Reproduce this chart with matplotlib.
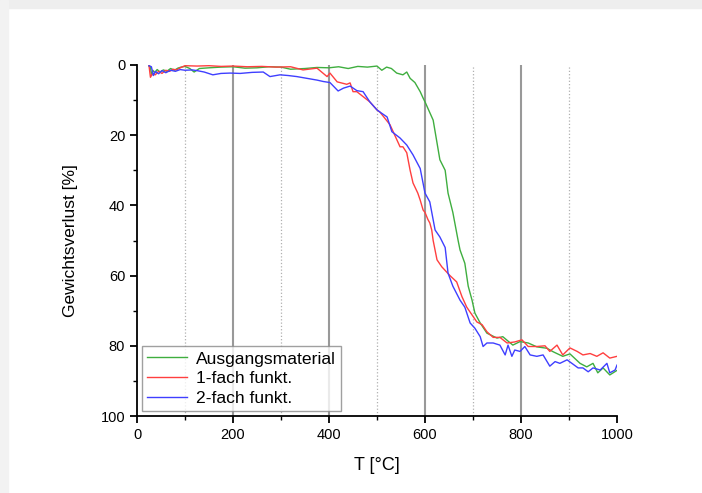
#!/usr/bin/env python3
import matplotlib
matplotlib.use("Agg")
import matplotlib.pyplot as plt
from matplotlib.patches import Rectangle
from matplotlib.ticker import MultipleLocator

plt.rcParams["font.family"] = ["Liberation Sans", "DejaVu Sans"]

# Ausgangsmaterial
green_t = [25, 28, 30, 33, 37, 42, 48, 55, 62, 70, 78, 85, 92, 100, 110, 119, 130,
           150, 175, 200, 225, 250, 275, 300, 320, 350, 375, 400, 420, 440, 460,
           480, 500, 510, 520, 530, 541, 554, 562, 569, 579, 590, 596, 600, 617,
           631, 642, 648, 658, 669, 673, 683, 690, 698, 704, 715, 729, 750, 762,
           783, 798, 815, 833, 854, 867, 887, 902, 923, 937, 950, 960, 971, 985, 1000]
green_y = [0.3, 0.5, 3.0, 1.5, 2.2, 1.3, 2.0, 1.4, 1.8, 1.0, 1.5, 0.9, 0.6, 0.4, 1.0, 2.0, 1.0,
           0.8, 0.6, 0.5, 0.9, 0.8, 0.5, 0.6, 1.2, 1.0, 0.7, 0.8, 0.5, 1.0, 0.4,
           0.6, 0.3, 1.5, 0.6, 1.0, 2.3, 2.8, 2.0, 3.8, 5.0, 7.6, 9.4, 10.5, 15.7,
           27.0, 30.0, 36.5, 42.0, 50.0, 52.7, 56.5, 63.0, 67.0, 70.7, 73.5, 76.4, 77.8, 77.4,
           79.8, 78.8, 79.2, 80.3, 80.7, 81.7, 83.0, 82.3, 85.0, 86.0, 85.0, 87.7, 86.3, 88.3, 87.0]

# 1-fach funkt.
red_t = [25, 28, 32, 38, 45, 52, 60, 68, 75, 82, 90, 100, 125, 150, 175, 200, 230,
         260, 290, 320, 346, 375, 396, 402, 417, 437, 444, 450, 458, 471, 485, 500,
         506, 527, 537, 548, 554, 562, 569, 575, 585, 590, 596, 600, 606, 610, 614,
         617, 625, 635, 652, 666, 677, 687, 698, 708, 719, 729, 742, 756, 771, 787,
         802, 815, 833, 850, 860, 875, 887, 902, 917, 929, 944, 958, 971, 985, 1000]
red_y = [0.2, 3.5, 2.5, 2.8, 1.8, 2.4, 1.5, 1.8, 1.2, 1.4, 0.8, 0.2, 0.3, 0.2, 0.4, 0.3, 0.5,
         0.4, 0.6, 0.5, 1.4, 0.9, 3.3, 2.3, 4.8, 5.5, 5.1, 7.6, 7.6, 9.0, 10.5, 12.8,
         13.4, 17.0, 20.0, 23.3, 23.3, 25.0, 30.0, 33.6, 36.5, 38.5, 41.3, 42.0, 44.0, 45.0, 47.0,
         50.0, 55.5, 57.5, 60.0, 61.8, 66.0, 69.0, 71.2, 73.2, 74.0, 76.0, 77.6, 77.6, 79.2, 78.9,
         78.3, 80.2, 80.2, 80.0, 81.6, 79.8, 82.6, 80.6, 81.6, 82.6, 82.2, 83.0, 82.0, 83.5, 83.0]

# 2-fach funkt.
blue_t = [25, 30, 34, 38, 45, 52, 60, 70, 80, 90, 100, 115, 125, 140, 158, 175, 194,
          215, 240, 263, 277, 298, 315, 333, 354, 375, 388, 402, 419, 430, 444, 458,
          471, 485, 500, 506, 521, 531, 548, 562, 575, 590, 600, 610, 621, 631, 642,
          648, 658, 673, 683, 694, 704, 715, 721, 729, 742, 756, 767, 773, 781, 787,
          798, 808, 819, 833, 846, 860, 871, 881, 896, 906, 919, 929, 940, 950, 965,
          979, 985, 996, 1000]
blue_y = [0.2, 0.5, 3.0, 1.8, 2.5, 1.6, 2.2, 1.5, 1.8, 1.3, 1.5, 1.4, 1.6, 2.0, 2.8, 2.4, 2.3,
          2.4, 2.1, 2.0, 3.3, 2.8, 3.0, 3.3, 3.8, 4.3, 4.7, 5.0, 7.4, 6.6, 6.0, 7.3,
          7.6, 10.5, 12.8, 13.4, 14.8, 19.0, 20.8, 22.8, 25.6, 29.5, 36.5, 39.0, 47.0, 49.0, 52.0,
          59.3, 63.0, 67.0, 69.0, 73.5, 75.0, 77.4, 80.2, 79.2, 79.2, 79.8, 82.6, 79.8, 83.0, 81.2,
          81.6, 80.2, 82.6, 83.0, 82.6, 85.8, 84.5, 85.0, 84.0, 85.0, 86.3, 86.3, 87.4, 86.3, 86.9,
          85.0, 87.7, 86.9, 85.5]

SERIES = [
    ("Ausgangsmaterial", green_t, green_y, "#3fae3f"),
    ("1-fach funkt.", red_t, red_y, "#ff3f3f"),
    ("2-fach funkt.", blue_t, blue_y, "#3f3fff"),
]

fig = plt.figure(figsize=(7.02, 4.93), dpi=100)
# light screenshot border (top and left)
fig.patches.append(Rectangle((0, 1 - 8 / 493), 1, 8 / 493, transform=fig.transFigure,
                             color="#eeeeee", zorder=0))
fig.patches.append(Rectangle((0, 0), 8 / 702, 1, transform=fig.transFigure,
                             color="#f2f2f2", zorder=0))

ax = fig.add_axes([137 / 702, 1 - 416 / 493, 480 / 702, 351 / 493])
for label, t, y, color in SERIES:
    ax.plot(t, y, color=color, linewidth=1.0, label=label)

ax.set_xlim(0, 1000)
ax.set_ylim(100, 0)
ax.xaxis.set_major_locator(MultipleLocator(200))
ax.xaxis.set_minor_locator(MultipleLocator(100))
ax.yaxis.set_major_locator(MultipleLocator(20))
ax.yaxis.set_minor_locator(MultipleLocator(10))
ax.grid(True, which="major", axis="x", color="#999999", linewidth=1.5)
ax.grid(True, which="minor", axis="x", color="#b0b0b0", linewidth=0.9, linestyle=":")
ax.set_axisbelow(True)
# no grid line on the axis ends
for tick, loc in zip(ax.xaxis.get_major_ticks(), ax.xaxis.get_majorticklocs()):
    tick.gridline.set_visible(0 < loc < 1000)

for side in ["top", "right"]:
    ax.spines[side].set_visible(False)
for side in ["left", "bottom"]:
    ax.spines[side].set_linewidth(1.3)
ax.tick_params(which="major", length=5, width=1.3, labelsize=10.5)
ax.tick_params(which="minor", length=3, width=1.0)

ax.set_xlabel("T [°C]", fontsize=13, labelpad=11)
ax.set_ylabel("Gewichtsverlust [%]", fontsize=12.5, labelpad=16)

leg = ax.legend(loc="lower left", bbox_to_anchor=(0.01, 0.014), borderaxespad=0,
                fancybox=False, edgecolor="#888888", fontsize=12.6, handlelength=2.3,
                labelspacing=0.25, borderpad=0.3, handletextpad=0.5)
leg.get_frame().set_linewidth(1.0)

fig.savefig("out.png", dpi=100)
